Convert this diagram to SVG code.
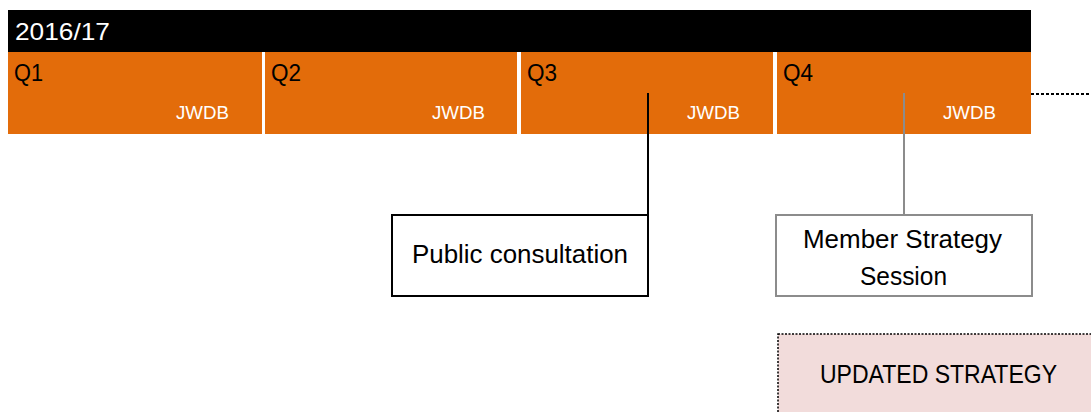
<svg xmlns="http://www.w3.org/2000/svg" width="1091" height="412" viewBox="0 0 1091 412">
<style>
text{font-family:"Liberation Sans",Arial,sans-serif}
.q{fill:#e36c0a}
.ql{fill:#000;font-size:24px}
.jw{fill:#fff;font-size:19px}
.bt{fill:#000;font-size:25px}
</style>
<rect width="1091" height="412" fill="#fff"/>
<g id="header">
<rect x="8" y="10" width="1023" height="42" fill="#000"/>
<text x="15" y="40" fill="#fff" font-size="24" textLength="95" lengthAdjust="spacingAndGlyphs">2016/17</text>
</g>
<g id="q1"><rect class="q" x="8" y="52" width="254" height="82"/><text class="ql" x="14" y="81" textLength="29" lengthAdjust="spacingAndGlyphs">Q1</text><text class="jw" x="176" y="119" textLength="53" lengthAdjust="spacingAndGlyphs">JWDB</text></g>
<g id="q2"><rect class="q" x="265" y="52" width="252" height="82"/><text class="ql" x="271" y="81" textLength="30" lengthAdjust="spacingAndGlyphs">Q2</text><text class="jw" x="432" y="119" textLength="53" lengthAdjust="spacingAndGlyphs">JWDB</text></g>
<g id="q3"><rect class="q" x="521" y="52" width="252" height="82"/><text class="ql" x="527" y="81" textLength="30" lengthAdjust="spacingAndGlyphs">Q3</text><text class="jw" x="687" y="119" textLength="53" lengthAdjust="spacingAndGlyphs">JWDB</text></g>
<g id="q4"><rect class="q" x="777" y="52" width="254" height="82"/><text class="ql" x="783" y="81" textLength="30" lengthAdjust="spacingAndGlyphs">Q4</text><text class="jw" x="943" y="119" textLength="53" lengthAdjust="spacingAndGlyphs">JWDB</text></g>
<g id="connectors">
<line x1="648" y1="93" x2="648" y2="215" stroke="#000" stroke-width="2"/>
<line x1="904" y1="93" x2="904" y2="215" stroke="#8c8c8c" stroke-width="2"/>
<line x1="1031" y1="94" x2="1091" y2="94" stroke="#000" stroke-width="2" stroke-dasharray="3,2"/>
</g>
<g id="public">
<rect x="392" y="215" width="256" height="81" fill="#fff" stroke="#000" stroke-width="2"/>
<text class="bt" x="412" y="263" textLength="216" lengthAdjust="spacingAndGlyphs">Public consultation</text>
</g>
<g id="member">
<rect x="776" y="215" width="256" height="81" fill="#fff" stroke="#8c8c8c" stroke-width="2"/>
<text class="bt" x="803" y="248" textLength="199" lengthAdjust="spacingAndGlyphs">Member Strategy</text>
<text class="bt" x="860" y="285" textLength="87" lengthAdjust="spacingAndGlyphs">Session</text>
</g>
<g id="updated">
<rect x="778" y="334" width="320" height="90" fill="#f2dcdb" stroke="#000" stroke-width="1.5" stroke-dasharray="2,1.5"/>
<text class="bt" x="820" y="383" textLength="237" lengthAdjust="spacingAndGlyphs">UPDATED STRATEGY</text>
</g>
</svg>
